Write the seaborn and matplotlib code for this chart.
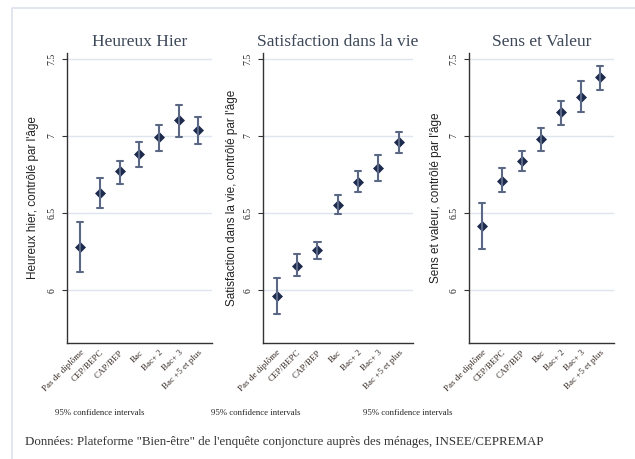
import numpy as np
import pandas as pd
import matplotlib
matplotlib.use("Agg")
import matplotlib.pyplot as plt
from matplotlib.lines import Line2D
import seaborn as sns

# education levels (x axis)
niveaux = ["Pas de diplôme", "CEP/BEPC", "CAP/BEP", "Bac", "Bac+ 2", "Bac+ 3", "Bac +5 et plus"]

# point estimates and 95% CI bounds
heureux = [6.28, 6.63, 6.77, 6.88, 6.99, 7.10, 7.04]
heureux_lo = [6.12, 6.535, 6.69, 6.80, 6.90, 6.99, 6.95]
heureux_hi = [6.44, 6.73, 6.84, 6.96, 7.07, 7.20, 7.125]

satisf = [5.965, 6.16, 6.26, 6.555, 6.70, 6.795, 6.96]
satisf_lo = [5.845, 6.09, 6.20, 6.495, 6.635, 6.71, 6.89]
satisf_hi = [6.08, 6.235, 6.31, 6.62, 6.77, 6.875, 7.025]

sens = [6.415, 6.71, 6.84, 6.98, 7.155, 7.255, 7.38]
sens_lo = [6.27, 6.635, 6.775, 6.905, 7.07, 7.155, 7.30]
sens_hi = [6.565, 6.795, 6.90, 7.05, 7.225, 7.355, 7.455]

titres = ["Heureux Hier", "Satisfaction dans la vie", "Sens et Valeur"]
ylabels = ["Heureux hier, contrôlé par l'âge",
           "Satisfaction dans la vie, contrôlé par l'âge",
           "Sens et valeur, contrôlé par l'âge"]
note = "95% confidence intervals"
source = "Données: Plateforme \"Bien-être\" de l'enquête conjoncture auprès des ménages, INSEE/CEPREMAP"

panels = [(heureux, heureux_lo, heureux_hi),
          (satisf, satisf_lo, satisf_hi),
          (sens, sens_lo, sens_hi)]

sns.set_style("white")

W, H = 635, 459
fig = plt.figure(figsize=(W / 100, H / 100), dpi=100)

# light frame around the graph region
fig.add_artist(Line2D([12 / W, 12 / W, 1], [0, 1 - 8 / H, 1 - 8 / H],
                      transform=fig.transFigure, color="#dde1ee", lw=1.2))

# axes boxes in pixels: (left, right), ylabel x, note left edge
boxes = [(67, 212), (263, 413), (469, 614)]
ylab_x = [33, 232, 436]
note_x = [55, 211, 363]
top, bottom = 53, 343

marker_col = "#1c2a4d"
err_col = "#5a6885"
title_col = "#3c4758"

for i, (vals, lo, hi) in enumerate(panels):
    l, r = boxes[i]
    ax = fig.add_axes([l / W, (H - bottom) / H, (r - l) / W, (bottom - top) / H])

    # long table: lower bound, estimate, upper bound for each level
    df = pd.DataFrame({
        "niveau": niveaux * 3,
        "valeur": list(lo) + list(vals) + list(hi),
    })
    sns.pointplot(data=df, x="niveau", y="valeur", order=niveaux,
                  estimator="median", errorbar=("pi", 100),
                  color=marker_col, markers="D", markersize=5,
                  markeredgewidth=0.5, linestyle="none", capsize=0.3,
                  err_kws={"color": err_col, "linewidth": 1.5}, ax=ax)

    ax.set_xlim(-0.68, 6.7)
    ax.set_ylim(5.658, 7.537)
    ax.set_yticks([6, 6.5, 7, 7.5])
    ax.set_yticklabels(["6", "6.5", "7", "7.5"], rotation=90, va="center",
                       family="Liberation Serif", fontsize=7, color="#222222")
    ax.set_xticks(range(len(niveaux)))
    ax.set_xticklabels(niveaux, rotation=45, ha="right", rotation_mode="anchor",
                       family="Liberation Serif", fontsize=6.5, color="#3a2e28")
    ax.tick_params(axis="x", length=0, pad=4)
    ax.tick_params(axis="y", length=3.5, width=0.8, color="#333333", pad=4, left=True)
    ax.grid(axis="y", color="#dfe5ef", lw=1)
    ax.set_axisbelow(True)
    for s in ["top", "right"]:
        ax.spines[s].set_visible(False)
    for s in ["left", "bottom"]:
        ax.spines[s].set_color("#333333")
        ax.spines[s].set_linewidth(1)
    ax.set_xlabel("")
    ax.set_ylabel("")

    fig.text((l + r) / 2 / W, 1 - 42 / H, titres[i], ha="center", va="center",
             family="Liberation Serif", fontsize=12.5, color=title_col)
    fig.text(ylab_x[i] / W, 1 - (top + bottom) / 2 / H, ylabels[i], rotation=90,
             ha="center", va="center", family="Liberation Sans", fontsize=8.5,
             color="#222222")
    fig.text(note_x[i] / W, 1 - 413 / H, note, ha="left", va="center",
             family="Liberation Serif", fontsize=6.3, color="#222222")

fig.text(25 / W, 1 - 442 / H, source, ha="left", va="center",
         family="Liberation Serif", fontsize=9.3, color="#333333")

fig.savefig("out.png", dpi=100)
